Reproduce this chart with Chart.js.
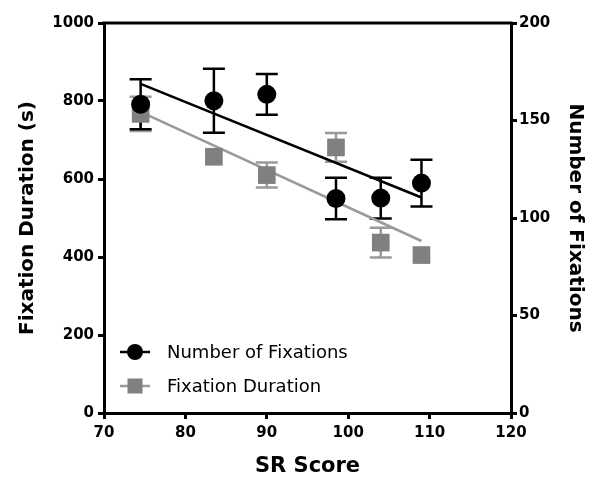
<!DOCTYPE html>
<html>
<head>
<meta charset="utf-8">
<script src="https://cdn.jsdelivr.net/npm/chart.js@4/dist/chart.umd.min.js"></script>
<style>
  html, body { margin: 0; padding: 0; background: #fff; }
  #wrap { width: 599px; height: 482px; }
</style>
</head>
<body>
<div id="wrap"><canvas id="chart" width="599" height="482"></canvas></div>
<script>
// data
const srScore      = [74.5, 83.5, 90, 98.5, 104, 109];
const fixCount     = [158.3, 160.1, 163.4, 110, 110.2, 117.9];
const fixCountErr  = [12.8, 16.4, 10.5, 10.7, 10.5, 12];
const fixDur       = [767, 657, 610, 681, 437, 405];
const fixDurErr    = [44, 0, 32, 37, 38, 0];   // 0 = bar hidden behind the marker

// regression line end points
const fitX         = [74.5, 109];
const fixCountFit  = [168.8, 110.5];
const fixDurFit    = [772, 441];

const xTicks  = [70, 80, 90, 100, 110, 120];
const yTicks  = [0, 200, 400, 600, 800, 1000];
const y1Ticks = [0, 50, 100, 150, 200];

const BLACK = '#000000';
const GREY  = '#808080';
const GREY_LINE = '#9a9a9a';
const FONT = '"DejaVu Sans", sans-serif';

const pts = (xs, ys) => xs.map((x, i) => ({ x, y: ys[i] }));

// error bars + frame + legend
const extras = {
  id: 'extras',
  beforeDatasetsDraw(chart) {
    const ctx = chart.ctx;
    const xs = chart.scales.x;
    const bars = [
      { vals: fixDur,   err: fixDurErr,   scale: chart.scales.y,  color: GREY_LINE },
      { vals: fixCount, err: fixCountErr, scale: chart.scales.y1, color: BLACK },
    ];
    ctx.save();
    ctx.lineWidth = 2.5;
    bars.forEach(b => {
      ctx.strokeStyle = b.color;
      b.vals.forEach((v, i) => {
        if (!b.err[i]) return;
        const px  = xs.getPixelForValue(srScore[i]);
        const top = b.scale.getPixelForValue(v + b.err[i]);
        const bot = b.scale.getPixelForValue(v - b.err[i]);
        ctx.beginPath();
        ctx.moveTo(px, top); ctx.lineTo(px, bot);
        ctx.moveTo(px - 11, top); ctx.lineTo(px + 11, top);
        ctx.moveTo(px - 11, bot); ctx.lineTo(px + 11, bot);
        ctx.stroke();
      });
    });
    ctx.restore();
  },
  afterDraw(chart) {
    const ctx = chart.ctx;
    const a = chart.chartArea;
    ctx.save();
    // top frame line
    ctx.strokeStyle = BLACK;
    ctx.lineWidth = 3;
    ctx.beginPath();
    ctx.moveTo(a.left - 1.5, a.top); ctx.lineTo(a.right + 1.5, a.top);
    ctx.stroke();

    // legend
    const items = [
      { label: 'Number of Fixations', color: BLACK, shape: 'circle', y: 352 },
      { label: 'Fixation Duration',   color: GREY,  shape: 'rect',   y: 386, line: GREY_LINE },
    ];
    items.forEach(it => {
      ctx.strokeStyle = it.line || it.color;
      ctx.lineWidth = 2.5;
      ctx.beginPath();
      ctx.moveTo(120, it.y); ctx.lineTo(150, it.y);
      ctx.stroke();
      ctx.fillStyle = it.color;
      if (it.shape === 'circle') {
        ctx.beginPath();
        ctx.arc(135, it.y, 8, 0, Math.PI * 2);
        ctx.fill();
      } else {
        ctx.fillRect(127.5, it.y - 7.5, 15, 15);
      }
      ctx.fillStyle = BLACK;
      ctx.font = '18px ' + FONT;
      ctx.textBaseline = 'middle';
      ctx.fillText(it.label, 167, it.y + 1);
    });
    ctx.restore();
  },
};

const tickOpts = {
  color: BLACK,
  font: { family: FONT, size: 15, weight: 'bold' },
  padding: 4,
  callback: v => String(v),
};
const gridOpts = {
  drawOnChartArea: false,
  drawTicks: true,
  tickLength: 6,
  lineWidth: 3,
  color: BLACK,
};
const borderOpts = { display: true, width: 3, color: BLACK };
const titleFont = { family: FONT, size: 20, weight: 'bold' };

new Chart(document.getElementById('chart'), {
  type: 'scatter',
  data: {
    datasets: [
      {
        label: 'Number of Fixations',
        data: pts(srScore, fixCount),
        yAxisID: 'y1',
        pointStyle: 'circle',
        pointRadius: 9.5,
        backgroundColor: BLACK,
        borderColor: BLACK,
        borderWidth: 0,
        order: 0,
      },
      {
        label: 'fit count',
        data: pts(fitX, fixCountFit),
        yAxisID: 'y1',
        showLine: true,
        pointRadius: 0,
        borderColor: BLACK,
        borderWidth: 2.5,
        order: 1,
      },
      {
        label: 'Fixation Duration',
        data: pts(srScore, fixDur),
        yAxisID: 'y',
        pointStyle: 'rect',
        pointRadius: 12.5,
        backgroundColor: GREY,
        borderColor: GREY,
        borderWidth: 0,
        order: 2,
      },
      {
        label: 'fit duration',
        data: pts(fitX, fixDurFit),
        yAxisID: 'y',
        showLine: true,
        pointRadius: 0,
        borderColor: GREY_LINE,
        borderWidth: 2.5,
        order: 3,
      },
    ],
  },
  options: {
    responsive: false,
    animation: false,
    devicePixelRatio: 1,
    layout: { padding: { top: 23, left: 0, right: 0, bottom: 0 } },
    plugins: { legend: { display: false }, tooltip: { enabled: false } },
    scales: {
      x: {
        type: 'linear',
        min: xTicks[0],
        max: xTicks[xTicks.length - 1],
        afterBuildTicks: s => { s.ticks = xTicks.map(v => ({ value: v })); },
        afterFit: s => { s.height = 69; },
        ticks: { ...tickOpts, padding: 5 },
        grid: gridOpts,
        border: borderOpts,
        title: { display: true, text: 'SR Score', color: BLACK, font: { ...titleFont, size: 21 }, padding: { top: 0, bottom: 3 } },
      },
      y: {
        position: 'left',
        min: yTicks[0],
        max: yTicks[yTicks.length - 1],
        afterBuildTicks: s => { s.ticks = yTicks.map(v => ({ value: v })); },
        afterFit: s => { s.width = 104; },
        ticks: tickOpts,
        grid: gridOpts,
        border: borderOpts,
        title: { display: true, text: 'Fixation Duration (s)', color: BLACK, font: titleFont, padding: { top: 16, bottom: 0 } },
      },
      y1: {
        position: 'right',
        min: y1Ticks[0],
        max: y1Ticks[y1Ticks.length - 1],
        afterBuildTicks: s => { s.ticks = y1Ticks.map(v => ({ value: v })); },
        afterFit: s => { s.width = 88; },
        ticks: { ...tickOpts, padding: 2 },
        grid: gridOpts,
        border: borderOpts,
        title: { display: true, text: 'Number of Fixations', color: BLACK, font: titleFont, padding: { top: 12, bottom: 0 } },
      },
    },
  },
  plugins: [extras],
});
</script>
</body>
</html>
